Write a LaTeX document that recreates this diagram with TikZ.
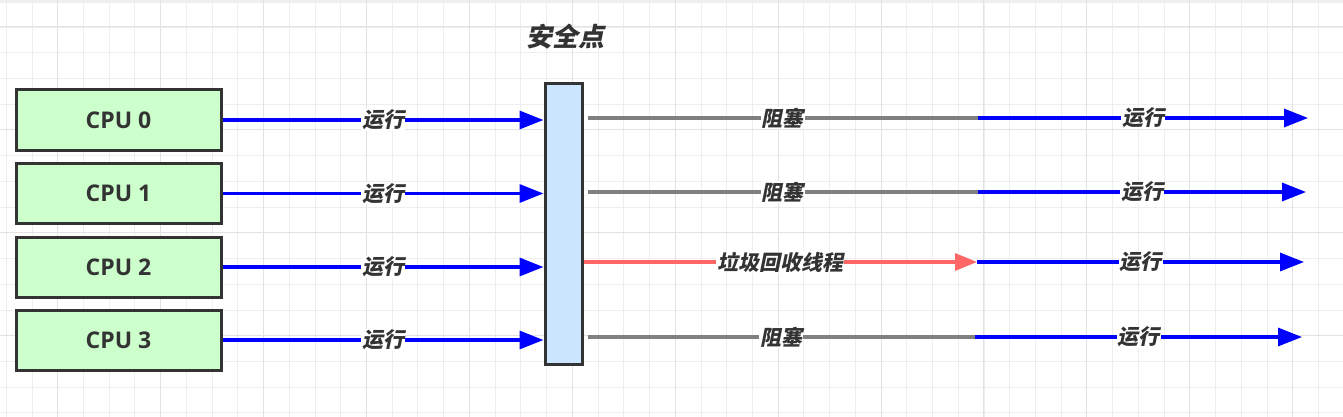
\documentclass[tikz,border=0pt]{standalone}
\usepackage{fontspec}
\usetikzlibrary{arrows.meta,calc}
\newfontfamily\cjk[FakeSlant=0.2]{Noto Sans CJK SC}
\newfontfamily\cpufont{Open Sans}
\definecolor{runblue}{RGB}{0,0,255}
\definecolor{gcred}{RGB}{255,102,102}
\definecolor{blockgray}{RGB}{128,128,128}
\definecolor{cpugreen}{RGB}{204,255,204}
\definecolor{spblue}{RGB}{204,229,255}
\definecolor{boxline}{RGB}{51,51,51}
\definecolor{gridminor}{RGB}{238,238,238}
\definecolor{gridmajor}{RGB}{226,226,226}

\begin{document}
\begin{tikzpicture}[x=1pt,y=-1pt,
  cpu/.style={draw=boxline, fill=cpugreen, line width=3pt, minimum width=205pt, minimum height=60pt, inner sep=0pt, text=boxline, font=\cpufont\bfseries\fontsize{23}{23}\selectfont},
  lbl/.style={fill=white, inner sep=1pt, text=boxline, font=\cjk\bfseries\fontsize{21}{21}\selectfont},
  run/.style={draw=runblue, line width=3.3pt, -{Triangle[length=24pt,width=18pt]}},
  blocked/.style={draw=blockgray, line width=3.3pt},
  gc/.style={draw=gcred, line width=3.3pt, -{Triangle[length=22pt,width=17pt]}}]
  \useasboundingbox (0,0) rectangle (1343,417);
  % grid
  \fill[white] (0,0) rectangle (1343,417);
  \fill[gridminor] (0,0) rectangle (1343,3);
  \foreach \i in {0,...,52}
    \draw[gridminor, line width=1pt] (6.3+25.73*\i,0) -- (6.3+25.73*\i,417);
  \foreach \j in {0,...,16}
    \draw[gridminor, line width=1pt] (0,1.3+25.73*\j) -- (1343,1.3+25.73*\j);
  \foreach \i in {0,...,12}
    \draw[gridmajor, line width=1pt] (57.7+102.92*\i,0) -- (57.7+102.92*\i,417);
  \foreach \j in {0,...,3}
    \draw[gridmajor, line width=1pt] (0,27+102.92*\j) -- (1343,27+102.92*\j);

  % cpus and safepoint
  \node[cpu] (cpu0) at (118.5,120) {CPU 0};
  \node[cpu] (cpu1) at (118.5,193.5) {CPU 1};
  \node[cpu] (cpu2) at (118.5,267) {CPU 2};
  \node[cpu] (cpu3) at (118.5,340) {CPU 3};
  \node[draw=boxline, fill=spblue, line width=3pt, minimum width=37pt, minimum height=280pt, inner sep=0pt] (sp) at (563.5,224) {};
  \node[lbl, fill=none, font=\cjk\bfseries\fontsize{26}{26}\selectfont] (sptitle) at (565,37) {安全点};

  % run into safepoint
  \draw[run] (cpu0) -- (cpu0 -| sp.west) node[lbl, midway] {运行};
  \draw[run] (cpu1) -- (cpu1 -| sp.west) node[lbl, midway] {运行};
  \draw[run] (cpu2) -- (cpu2 -| sp.west) node[lbl, midway] {运行};
  \draw[run] (cpu3) -- (cpu3 -| sp.west) node[lbl, midway] {运行};

  % after safepoint
  \coordinate (j0) at (978,118);
  \coordinate (j1) at (978,192);
  \coordinate (j2) at (977,262);
  \coordinate (j3) at (975,337);
  \coordinate (e0) at (1308,118);
  \coordinate (e1) at (1306,192);
  \coordinate (e2) at (1304,262);
  \coordinate (e3) at (1302,337);
  \draw[blocked] ($(j0 -| sp.east)+(4,0)$) -- (j0) node[lbl, midway] {阻塞};
  \draw[blocked] ($(j1 -| sp.east)+(4,0)$) -- (j1) node[lbl, midway] {阻塞};
  \draw[gc] (j2 -| sp.east) -- (j2) node[lbl, midway] {垃圾回收线程};
  \draw[blocked] ($(j3 -| sp.east)+(4,0)$) -- (j3) node[lbl, midway] {阻塞};
  \draw[run] (j0) -- (e0) node[lbl, midway] {运行};
  \draw[run] (j1) -- (e1) node[lbl, midway] {运行};
  \draw[run] (j2) -- (e2) node[lbl, midway] {运行};
  \draw[run] (j3) -- (e3) node[lbl, midway] {运行};
\end{tikzpicture}
\end{document}
